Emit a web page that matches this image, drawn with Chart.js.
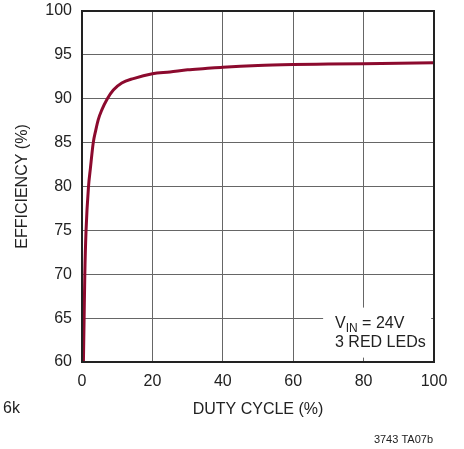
<!DOCTYPE html>
<html>
<head>
<meta charset="utf-8">
<script src="https://cdn.jsdelivr.net/npm/chart.js@4/dist/chart.umd.min.js"></script>
<style>
    html, body { margin: 0; padding: 0; background: #fff; }
    #wrap { width: 464px; height: 449px; position: relative; }
</style>
</head>
<body>
<div id="wrap"><canvas id="myChart" width="464" height="449"></canvas></div>
<script>
// valores
var duty_cycle = [0.4, 0.6, 0.8, 1.15, 1.85, 2.37, 3.2, 3.9, 4.6, 5.6, 7.2, 8.9, 11.3, 14.6, 20, 25, 30, 35, 40, 50, 60, 70, 80, 90, 100];
var eficiencia = [60, 65, 70, 75, 80, 82, 85, 86.4, 87.6, 88.7, 90, 91, 91.8, 92.3, 92.85, 93.05, 93.3, 93.45, 93.6, 93.8, 93.9, 93.95, 94.0, 94.05, 94.1];
var x_ticks = [0, 20, 40, 60, 80, 100];
var y_ticks = [60, 65, 70, 75, 80, 85, 90, 95, 100];

var fuente = "'Liberation Sans', Arial, sans-serif";
var fuente_angosta = "'Liberation Sans Narrow', 'Liberation Sans', sans-serif";

var puntos = duty_cycle.map(function (d, i) {
    return { x: d, y: eficiencia[i] };
});

// marco, cuadro de texto y notas
var extras = {
    id: 'extras',
    beforeDatasetsDraw: function (chart) {
        var ctx = chart.ctx;
        var x = chart.scales.x;
        var y = chart.scales.y;
        ctx.save();
        // cuadro blanco que tapa la grilla
        ctx.fillStyle = '#fff';
        ctx.fillRect(x.getPixelForValue(68.5), y.getPixelForValue(66.2), x.getPixelForValue(99.2) - x.getPixelForValue(68.5), y.getPixelForValue(60.5) - y.getPixelForValue(66.2));
        ctx.fillStyle = '#222';
        ctx.textBaseline = 'alphabetic';
        ctx.textAlign = 'left';
        ctx.font = '16px ' + fuente;
        var tx = 335;
        ctx.fillText('V', tx, 328);
        var w = ctx.measureText('V').width;
        ctx.font = '12px ' + fuente;
        ctx.fillText('IN', tx + w, 332);
        var w2 = ctx.measureText('IN').width;
        ctx.font = '16px ' + fuente;
        ctx.fillText(' = 24V', tx + w + w2, 328);
        ctx.fillText('3 RED LEDs', tx, 347);
        ctx.restore();
    },
    afterDraw: function (chart) {
        var ctx = chart.ctx;
        var a = chart.chartArea;
        ctx.save();
        ctx.strokeStyle = '#222';
        ctx.lineWidth = 2;
        ctx.strokeRect(a.left, a.top, a.right - a.left, a.bottom - a.top);
        ctx.fillStyle = '#222';
        ctx.textBaseline = 'middle';
        ctx.font = '16px ' + fuente;
        ctx.fillText('6k', 3, 409);
        ctx.font = '11px ' + fuente_angosta;
        ctx.textAlign = 'right';
        ctx.fillText('3743 TA07b', 433, 440);
        ctx.restore();
    }
};

var ctx = document.getElementById('myChart');
var myChart = new Chart(ctx, {
    type: 'line',
    data: {
        datasets: [
            {
                label: 'Eficiencia',
                data: puntos,
                borderColor: '#8c0a2e',
                borderWidth: 3,
                pointRadius: 0,
                fill: false,
                cubicInterpolationMode: 'monotone'
            }
        ]
    },
    plugins: [extras],
    options: {
        responsive: false,
        animation: false,
        layout: {
            padding: { left: 0, top: 11, right: 30, bottom: 0 }
        },
        plugins: {
            legend: { display: false },
            tooltip: { enabled: false }
        },
        scales: {
            x: {
                type: 'linear',
                min: 0,
                max: 100,
                afterBuildTicks: function (scale) {
                    scale.ticks = x_ticks.map(function (v) { return { value: v }; });
                },
                afterFit: function (scale) {
                    scale.height = 87;
                    scale.paddingLeft = 0;
                    scale.paddingRight = 0;
                },
                grid: { color: '#666', lineWidth: 1, drawTicks: false },
                border: { color: '#222', width: 2 },
                ticks: { color: '#222', font: { family: fuente, size: 16 }, padding: 10, maxRotation: 0 },
                title: {
                    display: true,
                    text: 'DUTY CYCLE (%)',
                    color: '#222',
                    font: { family: fuente, size: 16 },
                    padding: { top: 0, bottom: 30 }
                }
            },
            y: {
                min: 60,
                max: 100,
                afterBuildTicks: function (scale) {
                    scale.ticks = y_ticks.map(function (v) { return { value: v }; });
                },
                afterFit: function (scale) {
                    scale.width = 82;
                    scale.paddingTop = 0;
                    scale.paddingBottom = 0;
                },
                grid: { color: '#666', lineWidth: 1, drawTicks: false },
                border: { color: '#222', width: 2 },
                ticks: { color: '#222', font: { family: fuente, size: 16 }, padding: 10 },
                title: {
                    display: true,
                    text: 'EFFICIENCY (%)',
                    color: '#222',
                    font: { family: fuente, size: 16 },
                    padding: { top: 13, bottom: 0 }
                }
            }
        }
    }
});
</script>
</body>
</html>
